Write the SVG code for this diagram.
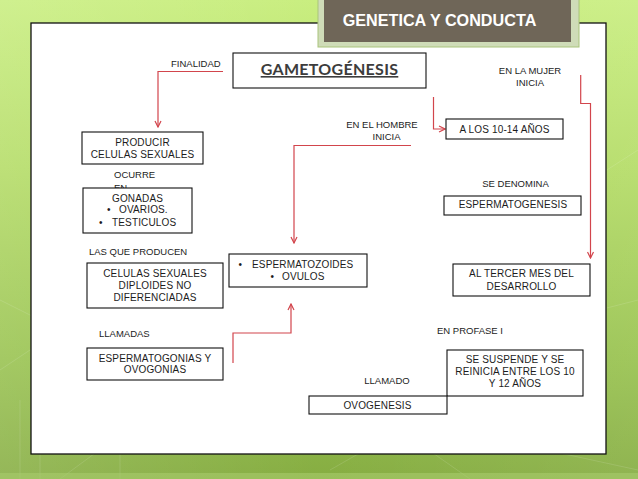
<svg xmlns="http://www.w3.org/2000/svg" width="638" height="479" viewBox="0 0 638 479">
<defs>
<linearGradient id="bg" x1="0" y1="0" x2="0" y2="1">
<stop offset="0" stop-color="#c9ee80"/>
<stop offset="0.35" stop-color="#b4dc66"/>
<stop offset="0.75" stop-color="#98c24f"/>
<stop offset="1" stop-color="#86ad42"/>
</linearGradient>
<linearGradient id="bgh" x1="0" y1="0" x2="1" y2="0">
<stop offset="0" stop-color="#ffffff" stop-opacity="0.12"/>
<stop offset="0.5" stop-color="#ffffff" stop-opacity="0"/>
<stop offset="1" stop-color="#ffffff" stop-opacity="0.08"/>
</linearGradient>
<marker id="arr" viewBox="0 0 8 8" refX="7" refY="4" markerWidth="8" markerHeight="8" markerUnits="userSpaceOnUse" orient="auto">
<path d="M1,1 L7,4 L1,7" fill="none" stroke="#d2454c" stroke-width="1.2"/>
</marker>
</defs>
<style>
.box{fill:#ffffff;stroke:#111111;stroke-width:1.1}
.t{font-family:"Liberation Sans",Arial,sans-serif;font-size:10px;fill:#1c1c1c;letter-spacing:0.15px}
.s{font-family:"Liberation Sans",Arial,sans-serif;font-size:9.5px;fill:#1c1c1c}
.m{text-anchor:middle}
.c{fill:none;stroke:#d2454c;stroke-width:1.2}
</style>
<rect x="0" y="0" width="638" height="479" fill="url(#bg)"/>
<rect x="0" y="0" width="638" height="479" fill="url(#bgh)"/>
<g stroke="#ffffff" stroke-opacity="0.12" stroke-width="1" fill="none">
<path d="M0,300 L60,330 L0,370"/>
<path d="M560,200 L638,150"/>
<path d="M560,320 L638,300"/>
<path d="M60,479 L140,420"/>
<path d="M330,470 L400,430 L470,479"/>
<path d="M500,440 L638,470"/>
<path d="M20,400 L20,479 M40,420 L40,479 M120,430 L120,479"/>
</g>
<rect x="0" y="473" width="638" height="6" fill="#a9cc6c" opacity="0.6"/>
<rect x="31" y="23" width="575" height="431" fill="#ffffff" stroke="#111111" stroke-width="1.3"/>

<g id="title">
<rect x="318" y="-2" width="261" height="49" fill="#cfdcb8" stroke="#a9c47c" stroke-width="1"/>
<rect x="324" y="-2" width="247" height="44" fill="#6f6658"/>
<text x="439.5" y="25.7" font-family="'Liberation Sans',Arial,sans-serif" font-size="16.2" font-weight="bold" fill="#ffffff" text-anchor="middle">GENETICA Y CONDUCTA</text>
</g>

<g id="connectors">
<path class="c" d="M223,71.5 L158,71.5 L158,127" marker-end="url(#arr)"/>
<path class="c" d="M433.5,97 L433.5,129 L445,129" marker-end="url(#arr)"/>
<path class="c" d="M411,145.5 L294,145.5 L294,243" marker-end="url(#arr)"/>
<path class="c" d="M580.7,75 L580.7,103.5 L590.5,103.5 L590.5,258" marker-end="url(#arr)"/>
<path class="c" d="M233,363 L233,333 L291,333 L291,304" marker-end="url(#arr)"/>
</g>

<g id="label-finalidad"><text class="s" x="171" y="66.7">FINALIDAD</text></g>
<g id="label-mujer">
<text class="s m" x="530" y="74">EN LA MUJER</text>
<text class="s m" x="530" y="85.5">INICIA</text>
</g>
<g id="label-hombre">
<text class="s m" x="382" y="127.7">EN EL HOMBRE</text>
<text class="s m" x="386.5" y="140">INICIA</text>
</g>

<g id="gametogenesis">
<rect class="box" x="233" y="53" width="193" height="35"/>
<text x="329.5" y="75" font-family="Lato,'Open Sans',sans-serif" font-size="16" font-weight="bold" fill="#3c3c3c" text-anchor="middle" letter-spacing="0.3" text-decoration="underline">GAMETOGÉNESIS</text>
</g>

<g id="producir">
<rect class="box" x="82" y="132" width="121" height="32"/>
<text class="t m" x="142.5" y="145.7">PRODUCIR</text>
<text class="t m" x="142.5" y="158.3">CELULAS SEXUALES</text>
</g>

<g id="label-ocurre">
<text class="s" x="114" y="177.7">OCURRE</text>
<text class="s" x="114" y="190.5">EN</text>
</g>

<g id="gonadas">
<rect class="box" x="83" y="188" width="109" height="45"/>
<text class="t m" x="137.5" y="201.7">GONADAS</text>
<text class="t" x="107" y="213.3">•</text>
<text class="t" x="119" y="213.3">OVARIOS.</text>
<text class="t" x="99" y="226">•</text>
<text class="t" x="112" y="226">TESTICULOS</text>
</g>

<g id="label-producen"><text class="s" x="89" y="255">LAS QUE PRODUCEN</text></g>

<g id="celulas">
<rect class="box" x="87" y="263" width="136" height="45"/>
<text class="t m" x="155" y="276.7">CELULAS SEXUALES</text>
<text class="t m" x="155" y="289">DIPLOIDES  NO</text>
<text class="t m" x="155" y="301.3">DIFERENCIADAS</text>
</g>

<g id="espermatozoides">
<rect class="box" x="229" y="254" width="138" height="33"/>
<text class="t" x="238.5" y="268">•</text>
<text class="t" x="252" y="268">ESPERMATOZOIDES</text>
<text class="t" x="270.5" y="280">•</text>
<text class="t" x="282" y="280">OVULOS</text>
</g>

<g id="label-llamadas"><text class="s" x="99" y="336.7">LLAMADAS</text></g>

<g id="espermatogonias">
<rect class="box" x="87" y="348" width="136" height="32"/>
<text class="t m" x="155" y="361.7">ESPERMATOGONIAS Y</text>
<text class="t m" x="155" y="373.3">OVOGONIAS</text>
</g>

<g id="alos">
<rect class="box" x="446" y="119" width="117" height="20"/>
<text class="t m" x="504.5" y="132.7">A LOS 10-14 AÑOS</text>
</g>

<g id="label-denomina"><text class="s m" x="515.5" y="186.7">SE DENOMINA</text></g>

<g id="espermatogenesis">
<rect class="box" x="444" y="196" width="137" height="19"/>
<text class="t m" x="513" y="208.3">ESPERMATOGENESIS</text>
</g>

<g id="tercer">
<rect class="box" x="453" y="264" width="137" height="32"/>
<text class="t m" x="521.5" y="277.3">AL TERCER MES DEL</text>
<text class="t m" x="521.5" y="290">DESARROLLO</text>
</g>

<g id="label-profase"><text class="s m" x="470" y="334">EN PROFASE I</text></g>

<g id="suspende">
<rect class="box" x="447" y="350" width="136" height="46"/>
<text class="t m" x="515" y="363.3">SE SUSPENDE Y SE</text>
<text class="t m" x="515" y="375">REINICIA ENTRE LOS 10</text>
<text class="t m" x="515" y="387.3">Y 12 AÑOS</text>
</g>

<g id="label-llamado"><text class="s m" x="387" y="384">LLAMADO</text></g>

<g id="ovogenesis">
<rect class="box" x="309" y="396" width="138" height="18"/>
<text class="t m" x="377.5" y="409">OVOGENESIS</text>
</g>
</svg>
